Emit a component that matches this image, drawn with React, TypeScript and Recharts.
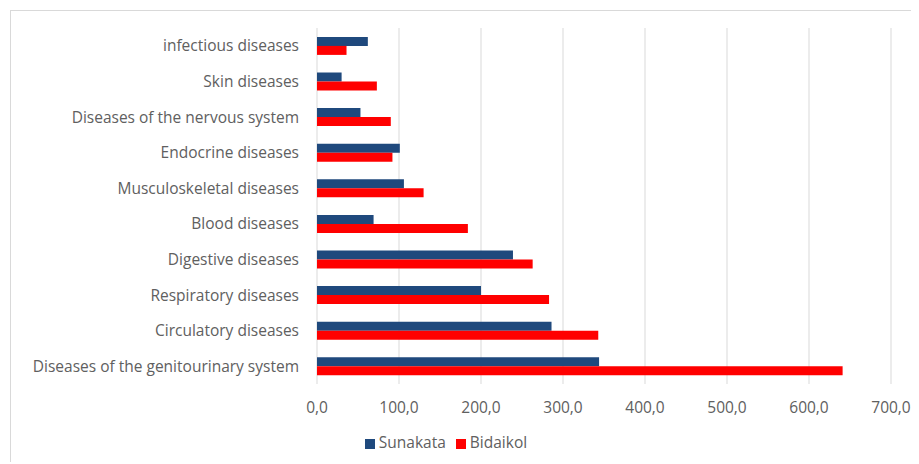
import React from 'react';
import { BarChart, Bar, XAxis, YAxis, CartesianGrid, Legend } from 'recharts';

const categories = [
  'infectious diseases',
  'Skin diseases',
  'Diseases of the nervous system',
  'Endocrine diseases',
  'Musculoskeletal diseases',
  'Blood diseases',
  'Digestive diseases',
  'Respiratory diseases',
  'Circulatory diseases',
  'Diseases of the genitourinary system',
];
const sunakata = [62, 30, 53, 101, 106, 69, 239, 200, 286, 344];
const bidaikol = [36, 73, 90, 92, 130, 184, 263, 283, 343, 641];
const xTicks = [0, 100, 200, 300, 400, 500, 600, 700];
const seriesOrder = ['Sunakata', 'Bidaikol'];

const data = categories.map((name, i) => ({ name, Sunakata: sunakata[i], Bidaikol: bidaikol[i] }));

const FONT = '"Open Sans", sans-serif';
const GREY = '#606060';

export default function App() {
  return (
    <div style={{ paddingLeft: 2, paddingTop: 2, fontFamily: FONT }}>
      <div style={{ width: 908, height: 452, borderLeft: '1px solid #d9d9d9', borderTop: '1px solid #d9d9d9', boxSizing: 'border-box' }}>
        <BarChart
          width={908}
          height={452}
          layout="vertical"
          data={data}
          margin={{ top: 17, right: 28, left: 0, bottom: 10 }}
          barCategoryGap="25%"
          barGap={0}
        >
          <CartesianGrid horizontal={false} stroke="#d9d9d9" />
          <XAxis
            type="number"
            domain={[0, 700]}
            ticks={xTicks}
            axisLine={false}
            tickLine={false}
            tickSize={0}
            tickMargin={18}
            height={47}
            tick={{ fill: GREY, fontSize: 15.5, fontFamily: FONT }}
            tickFormatter={(v: number) => v.toFixed(1).replace('.', ',')}
          />
          <YAxis
            type="category"
            dataKey="name"
            width={306}
            axisLine={false}
            tickLine={false}
            tickSize={0}
            tickMargin={18}
            interval={0}
            tick={{ fill: GREY, fontSize: 15.5, fontFamily: FONT }}
          />
          <Legend
            verticalAlign="bottom"
            iconType="square"
            iconSize={10}
            itemSorter={(item: any) => seriesOrder.indexOf(item.dataKey)}
            formatter={(value: string) => <span style={{ color: GREY, fontSize: 15.5 }}>{value}</span>}
          />
          <Bar dataKey="Sunakata" fill="#1f497d" isAnimationActive={false} />
          <Bar dataKey="Bidaikol" fill="#ff0000" isAnimationActive={false} />
        </BarChart>
      </div>
    </div>
  );
}
